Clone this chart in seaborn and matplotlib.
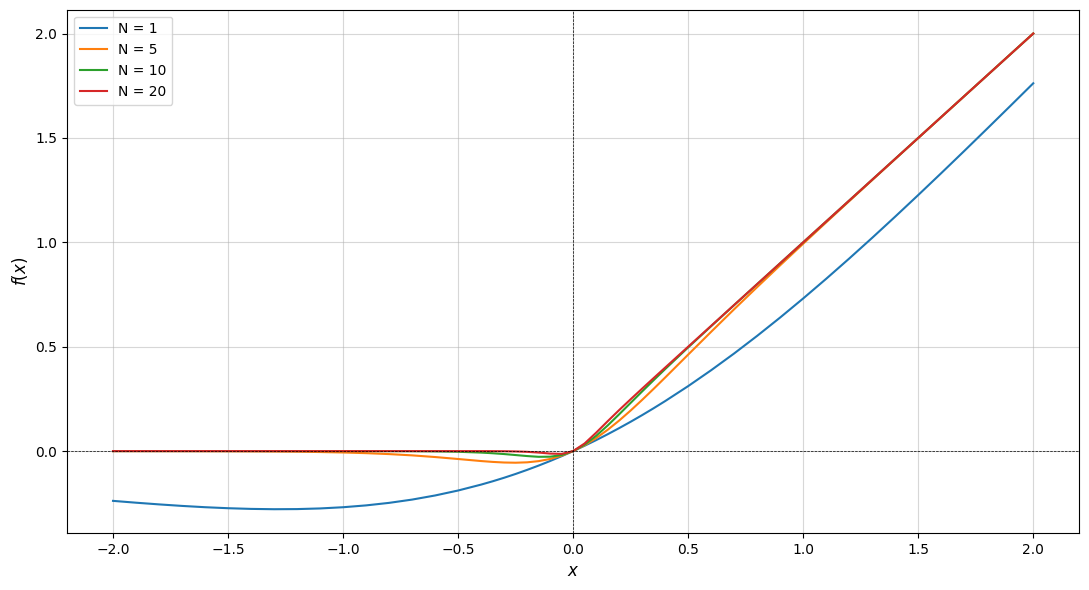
import numpy as np
import pandas as pd
import matplotlib
matplotlib.use('Agg')
import matplotlib.pyplot as plt
import seaborn as sns

# sample positions (denser near the origin)
x_vals = [-2.0, -1.9, -1.8, -1.7, -1.6, -1.5, -1.4, -1.3, -1.2, -1.1, -1.0,
          -0.9, -0.8, -0.7, -0.6, -0.5, -0.4, -0.35, -0.3, -0.25, -0.2, -0.15,
          -0.1, -0.05, 0.0, 0.05, 0.1, 0.15, 0.2, 0.25, 0.3, 0.35, 0.4, 0.5,
          0.6, 0.7, 0.8, 0.9, 1.0, 1.1, 1.2, 1.3, 1.4, 1.5, 1.6, 1.7, 1.8,
          1.9, 2.0]

n1 = [-0.2384, -0.2472, -0.2553, -0.2626, -0.2688, -0.2736, -0.2769, -0.2784,
      -0.2778, -0.2747, -0.2689, -0.2601, -0.2480, -0.2323, -0.2126, -0.1888,
      -0.1605, -0.1447, -0.1277, -0.1095, -0.0900, -0.0694, -0.0475, -0.0244,
      0.0, 0.0256, 0.0525, 0.0806, 0.1100, 0.1405, 0.1723, 0.2053, 0.2395,
      0.3112, 0.3874, 0.4677, 0.5520, 0.6399, 0.7311, 0.8253, 0.9222, 1.0216,
      1.1231, 1.2264, 1.3312, 1.4374, 1.5447, 1.6528, 1.7616]

n5 = [-0.0001, -0.0001, -0.0002, -0.0003, -0.0005, -0.0008, -0.0013, -0.0020,
      -0.0030, -0.0045, -0.0067, -0.0099, -0.0144, -0.0205, -0.0285, -0.0379,
      -0.0477, -0.0518, -0.0547, -0.0557, -0.0538, -0.0481, -0.0378, -0.0219,
      0.0, 0.0281, 0.0622, 0.1019, 0.1462, 0.1943, 0.2453, 0.2982, 0.3523,
      0.4621, 0.5715, 0.6795, 0.7856, 0.8901, 0.9933, 1.0955, 1.1970, 1.2980,
      1.3987, 1.4992, 1.5995, 1.6997, 1.7998, 1.8999, 1.9999]

n10 = [0.0, 0.0, 0.0, 0.0, 0.0, 0.0, 0.0, 0.0,
       0.0, 0.0, 0.0, -0.0001, -0.0003, -0.0006, -0.0015, -0.0033,
       -0.0072, -0.0103, -0.0142, -0.0190, -0.0238, -0.0274, -0.0269, -0.0189,
       0.0, 0.0311, 0.0731, 0.1226, 0.1762, 0.2310, 0.2858, 0.3397, 0.3928,
       0.4967, 0.5985, 0.6994, 0.7997, 0.8999, 1.0, 1.1, 1.2, 1.3,
       1.4, 1.5, 1.6, 1.7, 1.8, 1.9, 2.0]

n20 = [0.0, 0.0, 0.0, 0.0, 0.0, 0.0, 0.0, 0.0,
       0.0, 0.0, 0.0, 0.0, 0.0, 0.0, 0.0, 0.0,
       -0.0001, -0.0003, -0.0007, -0.0017, -0.0036, -0.0071, -0.0119, -0.0134,
       0.0, 0.0366, 0.0881, 0.1429, 0.1964, 0.2483, 0.2993, 0.3497, 0.3999,
       0.5, 0.6, 0.7, 0.8, 0.9, 1.0, 1.1, 1.2, 1.3,
       1.4, 1.5, 1.6, 1.7, 1.8, 1.9, 2.0]

labels = ['N = 1', 'N = 5', 'N = 10', 'N = 20']
series = [n1, n5, n10, n20]

rows = []
for lab, ys in zip(labels, series):
    for xv, yv in zip(x_vals, ys):
        rows.append({'x': xv, 'y': yv, 'N': lab})
df = pd.DataFrame(rows)

fig, ax = plt.subplots(figsize=(10.89, 5.9), dpi=100)
sns.lineplot(data=df, x='x', y='y', hue='N', hue_order=labels,
             palette=sns.color_palette('tab10', 4), linewidth=1.5, ax=ax)

ax.axhline(0, color='black', linestyle='--', linewidth=0.5)
ax.axvline(0, color='black', linestyle='--', linewidth=0.5)
ax.grid(True, alpha=0.5)
ax.set_xlabel('$x$', fontsize=12)
ax.set_ylabel('$f(x)$', fontsize=12)
ax.legend(loc='upper left')

plt.tight_layout(pad=0.7)
plt.savefig('out.png')
